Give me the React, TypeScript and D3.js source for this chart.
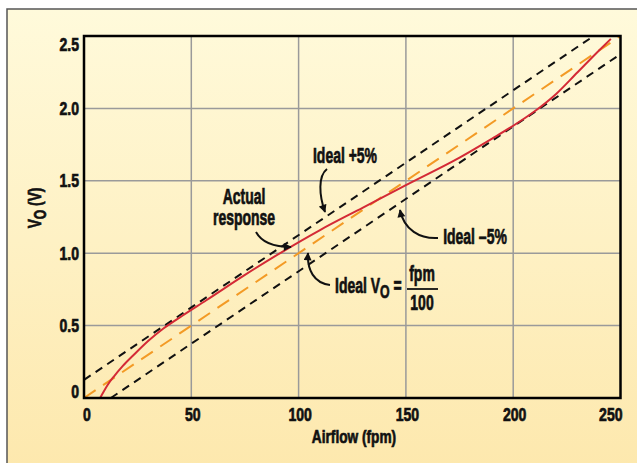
import { useEffect, useRef } from "react";
import * as d3 from "d3";

// axis ticks
const xTicks = [0, 50, 100, 150, 200, 250];
const yTicks = [0, 0.5, 1.0, 1.5, 2.0, 2.5];
const yTickLabels = ["0", "0.5", "1.0", "1.5", "2.0", "2.5"];

// ideal response Vo = fpm / 100
const idealFpm = [0, 250];
const idealV = [0, 2.5];

// ideal +5% / -5% (of full scale)
const plusFpm = [0, 237.5];
const plusV = [0.125, 2.5];
const minusFpm = [12.5, 250];
const minusV = [0, 2.375];

// actual sensor response
const actualFpm = [7.5, 9, 11, 14, 18, 23, 30, 37, 46, 57, 75, 93, 110, 130, 150, 175, 190, 200, 210, 220, 230, 240, 245.5];
const actualV = [0, 0.04, 0.09, 0.15, 0.22, 0.295, 0.395, 0.48, 0.57, 0.675, 0.85, 1.015, 1.16, 1.315, 1.47, 1.66, 1.79, 1.88, 1.98, 2.1, 2.25, 2.4, 2.48];

const W = 637;
const H = 463;
const FONT = "'Liberation Sans', Arial, sans-serif";

function App() {
	const ref = useRef<SVGSVGElement>(null);

	useEffect(() => {
		const svg = d3.select(ref.current);
		svg.selectAll("*").remove();

		const x = d3.scaleLinear().domain([0, 250]).range([84, 620.5]);
		const y = d3.scaleLinear().domain([0, 2.5]).range([398, 36]);

		const defs = svg.append("defs");
		const grad = defs.append("linearGradient").attr("id", "bg").attr("x1", 0).attr("y1", 0).attr("x2", 0).attr("y2", 1);
		grad.append("stop").attr("offset", "0%").attr("stop-color", "#fffadb");
		grad.append("stop").attr("offset", "100%").attr("stop-color", "#fde8ad");

		defs.append("marker")
			.attr("id", "arrow")
			.attr("viewBox", "0 0 10 10")
			.attr("refX", 9)
			.attr("refY", 5)
			.attr("markerWidth", 9)
			.attr("markerHeight", 8)
			.attr("markerUnits", "userSpaceOnUse")
			.attr("orient", "auto")
			.append("path")
			.attr("d", "M0,0 L10,5 L0,10 z")
			.attr("fill", "#111");

		// panel background + frame
		svg.append("rect").attr("width", W).attr("height", H).attr("fill", "#fff");
		svg.append("rect")
			.attr("x", 7)
			.attr("y", 9)
			.attr("width", W + 5)
			.attr("height", H)
			.attr("fill", "url(#bg)")
			.attr("stroke", "#555")
			.attr("stroke-width", 1.5);

		// grid
		svg.append("g")
			.selectAll("line")
			.data(xTicks.slice(1, -1))
			.join("line")
			.attr("x1", (d) => x(d))
			.attr("x2", (d) => x(d))
			.attr("y1", y(0))
			.attr("y2", y(2.5))
			.attr("stroke", "#9a9a9a")
			.attr("stroke-width", 1.5);
		svg.append("g")
			.selectAll("line")
			.data(yTicks.slice(1, -1))
			.join("line")
			.attr("x1", x(0))
			.attr("x2", x(250))
			.attr("y1", (d) => y(d))
			.attr("y2", (d) => y(d))
			.attr("stroke", "#9a9a9a")
			.attr("stroke-width", 1.5);

		const line = d3
			.line<[number, number]>()
			.x((d) => x(d[0]))
			.y((d) => y(d[1]));

		const zip = (a: number[], b: number[]) => a.map((v, i) => [v, b[i]] as [number, number]);

		svg.append("path")
			.attr("d", line(zip(plusFpm, plusV)))
			.attr("fill", "none")
			.attr("stroke", "#111")
			.attr("stroke-width", 2)
			.attr("stroke-dasharray", "8,6");
		svg.append("path")
			.attr("d", line(zip(minusFpm, minusV)))
			.attr("fill", "none")
			.attr("stroke", "#111")
			.attr("stroke-width", 2)
			.attr("stroke-dasharray", "8,6");
		svg.append("path")
			.attr("d", line(zip(idealFpm, idealV)))
			.attr("fill", "none")
			.attr("stroke", "#f39a25")
			.attr("stroke-width", 2)
			.attr("stroke-dasharray", "14,9");
		svg.append("path")
			.attr("d", line.curve(d3.curveMonotoneX)(zip(actualFpm, actualV)))
			.attr("fill", "none")
			.attr("stroke", "#d42a36")
			.attr("stroke-width", 2);

		// axes frame
		svg.append("rect")
			.attr("x", x(0))
			.attr("y", y(2.5))
			.attr("width", x(250) - x(0))
			.attr("height", y(0) - y(2.5))
			.attr("fill", "none")
			.attr("stroke", "#000")
			.attr("stroke-width", 2.5);

		// condensed bold text helper
		function addText(px: number, py: number, size: number, anchor: string, sx = 0.65) {
			return svg
				.append("text")
				.attr("transform", `translate(${px},${py}) scale(${sx},1)`)
				.attr("text-anchor", anchor)
				.attr("font-family", FONT)
				.attr("font-weight", "bold")
				.attr("font-size", size)
				.attr("fill", "#111")
				.attr("stroke", "#111")
				.attr("stroke-width", 0.7);
		}

		// tick labels
		yTicks.forEach((t, i) => {
			let py = y(t) + 6.5;
			if (i === 0) py = y(t);
			if (i === yTicks.length - 1) py = y(t) + 15;
			addText(79, py, 18, "end", 0.78).text(yTickLabels[i]);
		});
		xTicks.forEach((t, i) => {
			let anchor = "middle";
			let px = x(t) + 1.5;
			if (i === 0) {
				anchor = "start";
				px = x(t) - 1;
			}
			if (i === xTicks.length - 1) {
				anchor = "end";
				px = x(t) + 2;
			}
			addText(px, 421, 18, anchor, 0.78).text(String(t));
		});

		// axis titles
		addText(354, 443, 18, "middle", 0.76).text("Airflow (fpm)");
		const yt = svg
			.append("text")
			.attr("transform", `translate(41,208) rotate(-90) scale(0.76,1)`)
			.attr("text-anchor", "middle")
			.attr("font-family", FONT)
			.attr("font-weight", "bold")
			.attr("font-size", 18)
			.attr("fill", "#111")
			.attr("stroke", "#111")
			.attr("stroke-width", 0.7);
		yt.append("tspan").text("V");
		yt.append("tspan").attr("dy", 5).attr("font-size", 16).text("O");
		yt.append("tspan").attr("dy", -5).text(" (V)");

		// annotations
		addText(345, 163, 21.5, "middle").text("Ideal +5%");
		addText(244, 204, 21.5, "middle").text("Actual");
		addText(244, 225, 21.5, "middle").text("response");
		addText(475, 244, 21.5, "middle").text("Ideal \u20135%");
		const iv = addText(335, 293, 21.5, "start");
		iv.append("tspan").text("Ideal V");
		iv.append("tspan").attr("dy", 5).attr("font-size", 19).text("O");
		iv.append("tspan").attr("dy", -5).text(" =");
		addText(422, 281, 21.5, "middle").text("fpm");
		addText(422, 310, 21.5, "middle").text("100");
		svg.append("line")
			.attr("x1", 407)
			.attr("x2", 438)
			.attr("y1", 289)
			.attr("y2", 289)
			.attr("stroke", "#111")
			.attr("stroke-width", 1.8);

		// arrows
		const arrows = [
			"M327,169 C318,176 319,195 325,212",
			"M256,232 C262,243 275,247 291,247",
			"M438,238 C420,239 404,230 400,210",
			"M330,285 C314,283 307,270 308,253",
		];
		svg.append("g")
			.selectAll("path")
			.data(arrows)
			.join("path")
			.attr("d", (d) => d)
			.attr("fill", "none")
			.attr("stroke", "#111")
			.attr("stroke-width", 2)
			.attr("marker-end", "url(#arrow)");
	}, []);

	return (
		<>
			<style>{"body{margin:0}"}</style>
			<svg ref={ref} width={W} height={H} style={{ display: "block" }} />
		</>
	);
}

export default App;
